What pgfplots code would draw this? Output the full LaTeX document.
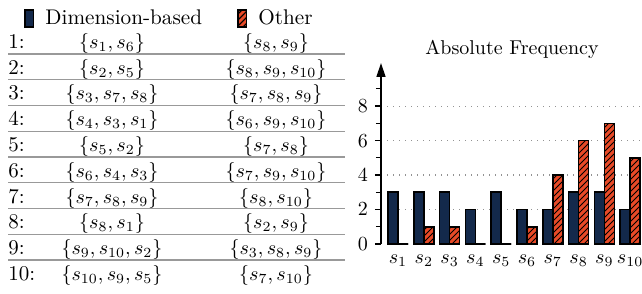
\documentclass[border=0pt]{standalone}
\usepackage{pgfplots}
\pgfplotsset{compat=1.18}
\usetikzlibrary{patterns,arrows.meta}
\definecolor{navy}{HTML}{13294B}
\definecolor{illorange}{HTML}{E84A27}
\begin{document}
\begin{tikzpicture}
\begin{scope}[x=0.5pt,y=-0.5pt]
  \foreach \k in {0,...,8}
    \draw[gray!80, line width=0.6pt] (8,{54+25.75*\k}) -- (345,{54+25.75*\k});
  \foreach \i/\a/\b in {
    1/{\{s_1, s_6\}}/{\{s_8, s_9\}},
    2/{\{s_2, s_5\}}/{\{s_8, s_9, s_{10}\}},
    3/{\{s_3, s_7, s_8\}}/{\{s_7, s_8, s_9\}},
    4/{\{s_4, s_3, s_1\}}/{\{s_6, s_9, s_{10}\}},
    5/{\{s_5, s_2\}}/{\{s_7, s_8\}},
    6/{\{s_6, s_4, s_3\}}/{\{s_7, s_9, s_{10}\}},
    7/{\{s_7, s_8, s_9\}}/{\{s_8, s_{10}\}},
    8/{\{s_8, s_1\}}/{\{s_2, s_9\}},
    9/{\{s_9, s_{10}, s_2\}}/{\{s_3, s_8, s_9\}},
    10/{\{s_{10}, s_9, s_5\}}/{\{s_7, s_{10}\}}} {
    \node[anchor=base west, inner sep=0pt, font=\fontsize{10.5}{12}\selectfont] at (8,{48.5+25.75*(\i-1)}) {\i:};
    \node[anchor=base, inner sep=0pt] at (112,{48.5+25.75*(\i-1)}) {$\a$};
    \node[anchor=base, inner sep=0pt] at (276,{48.5+25.75*(\i-1)}) {$\b$};
  }
  \node[anchor=base, inner sep=0pt] at (512,55) {Absolute Frequency};
\end{scope}
\begin{axis}[
  at={(190.5pt,-122pt)}, anchor=south west,
  scale only axis, width=130.5pt, height=90.5pt,
  xmin=0.34, xmax=10.46, ymin=0, ymax=10.5,
  axis y line*=left, axis x line*=bottom,
  x axis line style={draw=none},
  y axis line style={line width=0.7pt, -{Triangle[length=7pt,width=4.5pt]}},
  xtick={1,...,10},
  xticklabels={$s_1$,$s_2$,$s_3$,$s_4$,$s_5$,$s_6$,$s_7$,$s_8$,$s_9$,$s_{10}$},
  xtick style={draw=none},
  x tick label style={yshift=1pt},
  ytick={2,4,6,8}, extra y ticks={0}, extra tick style={grid=none},
  minor ytick={1,3,5,7,9},
  tick align=outside,
  major tick length=3pt, minor tick length=2.5pt,
  ytick style={line width=0.6pt, black},
  ymajorgrids,
  major grid style={gray!85, line width=0.55pt, dash pattern=on 0.6pt off 2.4pt},
  legend columns=2,
  legend style={at={(-1.392,1.34)}, anchor=north west, draw=none, fill=none,
    font=\fontsize{10.6}{13}\selectfont,
    nodes={inner xsep=5.5pt},
    /tikz/every even column/.append style={column sep=12pt}},
  legend cell align=left,
]
\addplot[ybar, bar width=5pt, bar shift=-2.5pt, fill=navy, draw=black, line width=0.8pt,
  legend image code/.code={\draw[fill=navy, draw=black, line width=0.8pt] (0pt,-4.1pt) rectangle (4.4pt,4.3pt);}]
  coordinates {(1,3)(2,3)(3,3)(4,2)(5,3)(6,2)(7,2)(8,3)(9,3)(10,2)};
\addlegendentry{Dimension-based}
\addplot[ybar, bar width=5pt, bar shift=2.5pt, fill=illorange, draw=black, line width=0.8pt,
  postaction={pattern=north east lines},
  legend image code/.code={\draw[fill=illorange, draw=black, line width=0.8pt, postaction={pattern=north east lines}] (0pt,-4.1pt) rectangle (4.4pt,4.3pt);}]
  coordinates {(1,0)(2,1)(3,1)(4,0)(5,0)(6,1)(7,4)(8,6)(9,7)(10,5)};
\addlegendentry{Other}
\end{axis}
\pgfresetboundingbox
\useasboundingbox (0,0) rectangle (321pt,-147pt);
\end{tikzpicture}
\end{document}
